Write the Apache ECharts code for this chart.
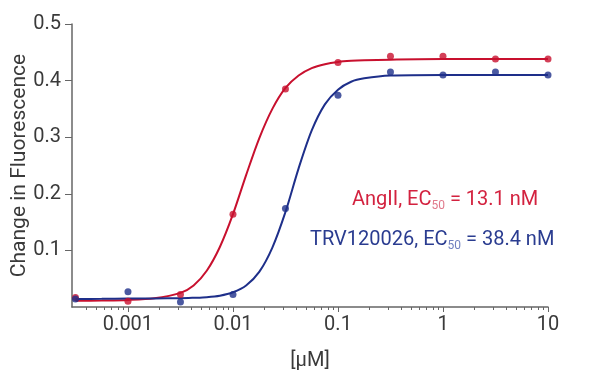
<!DOCTYPE html>
<html>
<head>
<meta charset="utf-8">
<script src="https://cdn.jsdelivr.net/npm/echarts@6/dist/echarts.min.js"></script>
<style>
  html, body { margin: 0; padding: 0; background: #fff; }
  #main { width: 600px; height: 381px; }
</style>
</head>
<body>
<div id="main"></div>
<script>
// measured points, concentration in µM
var conc = [0.000316, 0.001, 0.00316, 0.01, 0.0316, 0.1, 0.316, 1, 3.16, 10];
var angII = [0.017, 0.010, 0.022, 0.164, 0.385, 0.432, 0.443, 0.443, 0.438, 0.438];
var trv = [0.014, 0.027, 0.009, 0.022, 0.174, 0.374, 0.415, 0.410, 0.415, 0.410];

// fitted curves, x as log10(µM)
var fitLog = [-3.5, -3.25, -3.0, -2.75, -2.5, -2.375, -2.25, -2.125, -2.0, -1.875, -1.75,
  -1.625, -1.5, -1.375, -1.25, -1.125, -1.0, -0.875, -0.75, -0.5, 0, 0.5, 1];
var angIIFit = [0.011, 0.0115, 0.0125, 0.0155, 0.025, 0.038, 0.064, 0.106, 0.164, 0.233, 0.298,
  0.350, 0.387, 0.409, 0.422, 0.429, 0.433, 0.435, 0.436, 0.437, 0.438, 0.438, 0.438];
var trvFit = [0.014, 0.0145, 0.015, 0.0152, 0.0155, 0.0163, 0.0174, 0.020, 0.026, 0.038, 0.062,
  0.105, 0.168, 0.245, 0.312, 0.358, 0.384, 0.398, 0.404, 0.409, 0.410, 0.410, 0.410];

var majorTicks = [0.001, 0.01, 0.1, 1, 10];
var minorTicks = [];
[0.0001, 0.001, 0.01, 0.1, 1].forEach(function (d) {
  for (var k = 2; k <= 9; k++) {
    var v = +(d * k).toPrecision(3);
    if (v > 0.0003 && v < 10) minorTicks.push(v);
  }
});
var yTicks = [0.1, 0.2, 0.3, 0.4, 0.5];

var red = '#c8102e';
var blue = '#1e2f8a';
var axisColor = '#666';
var font = 'Roboto';

function pairs(xs, ys) {
  return xs.map(function (x, i) { return [x, ys[i]]; });
}
function logPairs(xs, ys) {
  return xs.map(function (x, i) { return [Math.pow(10, x), ys[i]]; });
}

var chart = echarts.init(document.getElementById('main'));
chart.setOption({
  animation: false,
  grid: { left: 72, right: 52, top: 24, bottom: 74, containLabel: false, outerBoundsMode: 'none' },
  xAxis: [{
    type: 'log',
    min: 0.000293,
    max: 10,
    name: '[µM]',
    nameLocation: 'middle',
    nameGap: 44,
    nameMoveOverlap: false,
    nameTextStyle: { fontFamily: font, fontSize: 20, color: '#3a3a3a' },
    axisLine: { lineStyle: { color: axisColor, width: 1.5 } },
    axisTick: { length: 5, customValues: majorTicks, lineStyle: { color: axisColor } },
    axisLabel: {
      customValues: majorTicks, margin: 8,
      fontFamily: font, fontSize: 20, color: '#3a3a3a',
      formatter: function (v) { return String(v); }
    },
    splitLine: { show: false }
  }, {
    type: 'log',
    min: 0.000293,
    max: 10,
    position: 'bottom',
    axisLine: { show: false },
    axisTick: { length: 3, customValues: minorTicks, lineStyle: { color: axisColor } },
    axisLabel: { show: false },
    splitLine: { show: false }
  }],
  yAxis: {
    type: 'value',
    min: 0,
    max: 0.5,
    interval: 0.1,
    name: 'Change in Fluorescence',
    nameLocation: 'middle',
    nameGap: 42,
    nameMoveOverlap: false,
    nameTextStyle: { fontFamily: font, fontSize: 21, color: '#3a3a3a' },
    axisLine: { show: true, lineStyle: { color: axisColor, width: 1.5 } },
    axisTick: { show: true, length: 7, customValues: yTicks, lineStyle: { color: axisColor } },
    axisLabel: {
      customValues: yTicks, margin: 11,
      fontFamily: font, fontSize: 20, color: '#3a3a3a',
      formatter: function (v) { return v.toFixed(1); }
    },
    splitLine: { show: false }
  },
  graphic: [{
    type: 'text', left: 352, top: 190,
    style: {
      text: '{n|AngII, EC}{s|50}{n| = 13.1 nM}',
      rich: {
        n: { fontFamily: font, fontSize: 20, fill: '#d3223f' },
        s: { fontFamily: font, fontSize: 12, fill: '#e0788a', padding: [12, 0, 0, 0] }
      }
    }
  }, {
    type: 'text', left: 310, top: 230,
    style: {
      text: '{n|TRV120026, EC}{s|50}{n| = 38.4 nM}',
      rich: {
        n: { fontFamily: font, fontSize: 20, fill: '#2a3c90' },
        s: { fontFamily: font, fontSize: 12, fill: '#7080c0', padding: [12, 0, 0, 0] }
      }
    }
  }],
  series: [{
    type: 'line', data: logPairs(fitLog, angIIFit), smooth: 0.3,
    showSymbol: false, lineStyle: { color: red, width: 2 }, z: 2
  }, {
    type: 'line', data: logPairs(fitLog, trvFit), smooth: 0.3,
    showSymbol: false, lineStyle: { color: blue, width: 2 }, z: 2
  }, {
    type: 'scatter', data: pairs(conc, angII), symbolSize: 7,
    itemStyle: { color: red }, z: 3
  }, {
    type: 'scatter', data: pairs(conc, trv), symbolSize: 7,
    itemStyle: { color: blue }, z: 3
  }]
});
</script>
</body>
</html>
